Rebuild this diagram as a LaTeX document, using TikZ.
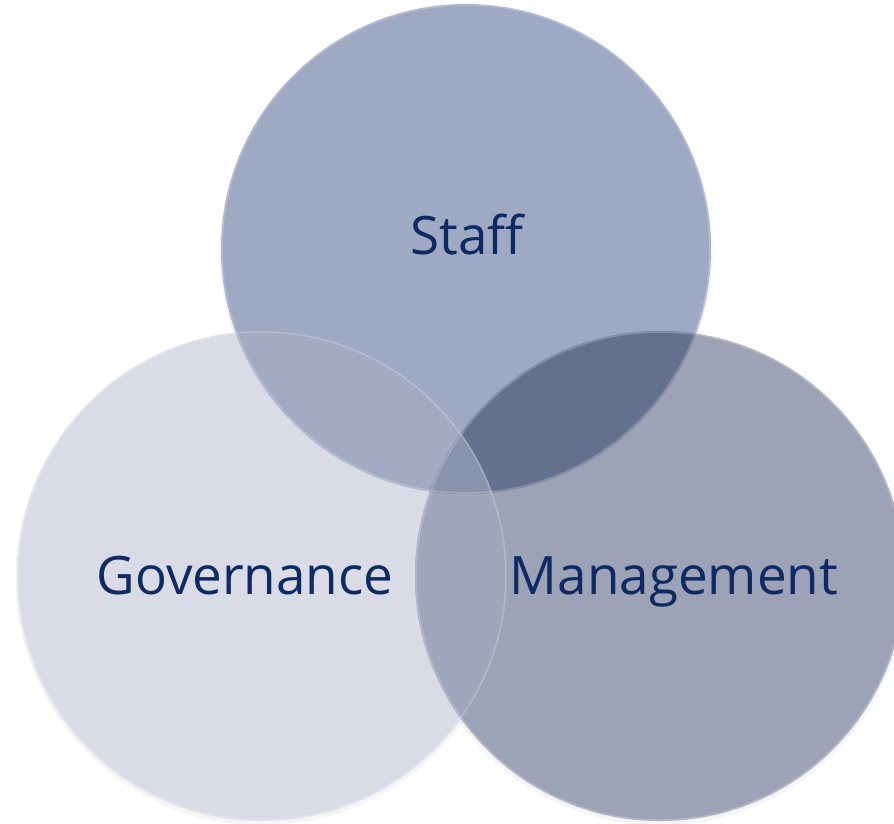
\documentclass[tikz,border=0pt]{standalone}
\usepackage{fontspec}
\setmainfont{Open Sans}
\definecolor{staffc}{HTML}{A0A9C4}
\definecolor{govc}{HTML}{D9DCE7}
\definecolor{mgmtc}{HTML}{9DA2B6}
\definecolor{sgc}{HTML}{A2AAC4}
\definecolor{mgc}{HTML}{A0A6BB}
\definecolor{smc}{HTML}{65708F}
\definecolor{allc}{HTML}{8A93AE}
\definecolor{labelc}{HTML}{0E2A63}
\begin{document}
\begin{tikzpicture}[x=1pt,y=-1pt,
  rim/.style={draw=white,draw opacity=0.22,line width=1.5pt},
  label/.style={text=labelc,font=\fontsize{53}{62}\selectfont,inner sep=0pt,anchor=base}]
\useasboundingbox (0,0) rectangle (894,823);
\def\rad{245}
\coordinate (S) at (466,249);
\coordinate (G) at (262,576);
\coordinate (M) at (660,576);
% soft shadows under the discs
\foreach \c in {G,S,M}{
  \fill[black,opacity=0.04] ([shift={(0,3)}]\c) circle (\rad+1.5);
}
% base discs
\fill[govc] (G) circle (\rad);
\fill[staffc] (S) circle (\rad);
\fill[mgmtc] (M) circle (\rad);
% pairwise overlaps
\begin{scope}
  \clip (S) circle (\rad);
  \fill[sgc] (G) circle (\rad);
\end{scope}
\begin{scope}
  \clip (M) circle (\rad);
  \fill[mgc] (G) circle (\rad);
\end{scope}
\begin{scope}
  \clip (S) circle (\rad);
  \fill[smc] (M) circle (\rad);
\end{scope}
% centre region shared by all three
\begin{scope}
  \clip (S) circle (\rad);
  \clip (M) circle (\rad);
  \fill[allc] (G) circle (\rad);
\end{scope}
% light rims
\draw[rim] (G) circle (\rad-1);
\draw[rim] (S) circle (\rad-1);
\draw[rim] (M) circle (\rad-1);
% labels
\node[label] (staff) at (467,254) {Staff};
\node[label] (gov) at (245,594) {Governance};
\node[label] (mgmt) at (674,594) {Management};
\end{tikzpicture}
\end{document}
